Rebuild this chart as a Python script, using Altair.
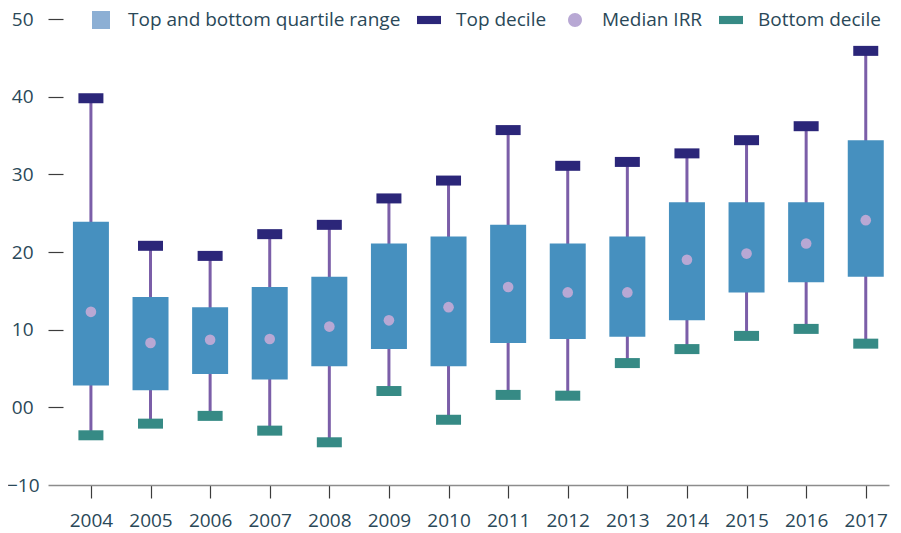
import altair as alt
import pandas as pd

years = list(range(2004, 2018))
top_decile = [39.8, 20.8, 19.5, 22.3, 23.5, 26.9, 29.2, 35.7, 31.1, 31.6, 32.7, 34.4, 36.2, 45.9]
upper_quartile = [23.9, 14.2, 12.9, 15.5, 16.8, 21.1, 22.0, 23.5, 21.1, 22.0, 26.4, 26.4, 26.4, 34.4]
median_irr = [12.3, 8.3, 8.7, 8.8, 10.4, 11.2, 12.9, 15.5, 14.8, 14.8, 19.0, 19.8, 21.1, 24.1]
lower_quartile = [2.8, 2.2, 4.3, 3.6, 5.3, 7.5, 5.3, 8.3, 8.8, 9.1, 11.2, 14.8, 16.1, 16.8]
bottom_decile = [-3.6, -2.1, -1.1, -3.0, -4.5, 2.1, -1.6, 1.6, 1.5, 5.7, 7.5, 9.2, 10.1, 8.2]
y_ticks = [-10, 0, 10, 20, 30, 40, 50]

legend_names = ["Top and bottom quartile range", "Top decile", "Median IRR", "Bottom decile"]
legend_colors = ["#8cafd4", "#2b2679", "#b8a8d4", "#368a85"]
legend_shapes = [
    "M-0.75,-0.75H0.75V0.75H-0.75Z",
    "M-1,-0.34H1V0.34H-1Z",
    "M0.58,0A0.58,0.58 0 1,1 -0.58,0A0.58,0.58 0 1,1 0.58,0Z",
    "M-1,-0.34H1V0.34H-1Z",
]

TEXT = "#2a4858"
FONT = "Open Sans"
FS = 19

df = pd.DataFrame({
    "year": years,
    "top": top_decile,
    "q3": upper_quartile,
    "median": median_irr,
    "q1": lower_quartile,
    "bottom": bottom_decile,
})
leg = pd.DataFrame({"series": legend_names})

x = alt.X(
    "year:Q",
    scale=alt.Scale(domain=[2003.28, 2017.39], nice=False, zero=False, padding=0),
    axis=alt.Axis(
        values=years, format="d", title=None, grid=False,
        domainColor="#8c8c8c", domainWidth=1.5,
        tickColor="#3c3c3c", tickWidth=1.2, tickSize=13,
        labelFont=FONT, labelFontSize=FS, labelColor=TEXT, labelPadding=13,
    ),
)
y = alt.Y(
    "bottom:Q",
    scale=alt.Scale(domain=[-10, 51.42], nice=False, zero=False, padding=0),
    axis=alt.Axis(
        values=y_ticks, title=None, grid=False, domain=False,
        labelExpr="datum.value == 0 ? '00' : datum.label",
        tickColor="#3c3c3c", tickWidth=1.2, tickSize=15, offset=-15,
        tickOpacity={"condition": {"test": "datum.value == -10", "value": 0}, "value": 1},
        labelFont=FONT, labelFontSize=FS, labelColor=TEXT,
        labelPadding={"condition": {"test": "datum.value == -10", "value": 9}, "value": 15},
    ),
)

base = alt.Chart(df)

whisker = base.mark_rule(color="#7b5ea8", strokeWidth=3).encode(
    x=x, y=y, y2="top:Q"
)
box = base.mark_bar(size=36, color="#4690bf", orient="vertical").encode(
    x="year:Q", y="q1:Q", y2="q3:Q"
)
top_cap = base.mark_tick(orient="horizontal", size=25, thickness=10, color="#2b2679", opacity=1).encode(
    x="year:Q", y="top:Q"
)
bottom_cap = base.mark_tick(orient="horizontal", size=25, thickness=10, color="#368a85", opacity=1).encode(
    x="year:Q", y="bottom:Q"
)
med = base.mark_circle(size=113, color="#b8a8d4", opacity=1).encode(
    x="year:Q", y="median:Q"
)

legend = alt.Legend(
    title=None, orient="none", direction="horizontal", legendX=41, legendY=0,
    padding=0, labelFont=FONT, labelFontSize=FS, labelColor=TEXT, labelLimit=0,
    labelOffset=15, columnPadding=16, symbolSize=576, symbolStrokeWidth=0,
    symbolOpacity=1,
)
legend_layer = alt.Chart(leg).mark_point(filled=True, opacity=0).encode(
    color=alt.Color("series:N", scale=alt.Scale(domain=legend_names, range=legend_colors), legend=legend),
    shape=alt.Shape("series:N", scale=alt.Scale(domain=legend_names, range=legend_shapes), legend=legend),
)

chart = alt.layer(whisker, box, top_cap, bottom_cap, med, legend_layer).properties(
    width=841, height=477,
    autosize=alt.AutoSizeParams(type="none"),
    padding={"left": 40, "top": 0, "right": 4, "bottom": 48},
).configure_view(stroke=None)

chart.save("out.html", embed_options={"renderer": "svg", "actions": False})
